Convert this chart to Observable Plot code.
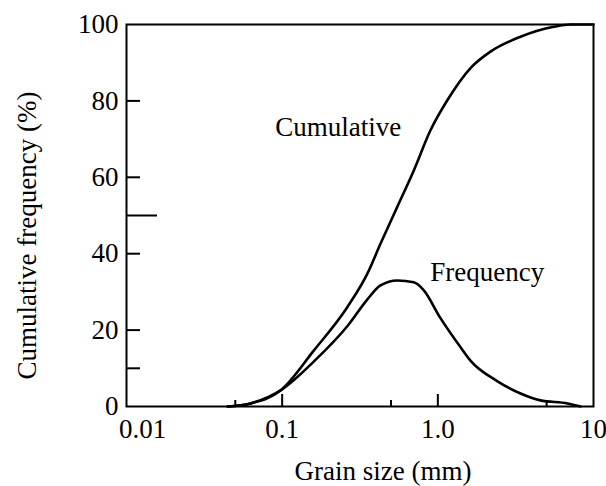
<!DOCTYPE html>
<html>
<head>
<meta charset="utf-8">
<script src="https://cdn.jsdelivr.net/npm/d3@7"></script>
<script src="https://cdn.jsdelivr.net/npm/@observablehq/plot@0.6"></script>
<style>
  html, body { margin: 0; padding: 0; background: #fff; }
</style>
</head>
<body>
<div id="chart"></div>
<script>
// Grain-size distribution: cumulative curve and frequency curve (log grain size)
const cumSize = [0.0446, 0.0626, 0.0976, 0.160, 0.262, 0.352, 0.428, 0.548, 0.701, 0.897, 1.148, 1.622, 2.18, 3.40, 5.56, 7.11, 10];
const cumValue = [0, 0.8, 4.2, 14.7, 26, 34.7, 42.6, 52.2, 61.8, 72.3, 80.1, 88.6, 92.9, 96.8, 99.4, 100, 100];

const freqSize = [0.0446, 0.0626, 0.0976, 0.160, 0.262, 0.352, 0.428, 0.548, 0.701, 0.813, 1.03, 1.40, 1.62, 2.42, 3.40, 4.56, 6.81, 8.25];
const freqValue = [0, 0.8, 4.2, 11.8, 21.0, 28.0, 31.7, 33.0, 32.5, 30.4, 23.4, 15.5, 12.0, 6.6, 3.4, 1.6, 0.8, 0];

const yTickLabels = [0, 20, 40, 60, 80, 100];
const yTicksShort = [10, 20, 40, 60, 80];
const yTicksLong = [50];
const xTickLabels = [0.01, 0.1, 1, 10];
const xTickText = ["0.01", "0.1", "1.0", "10"];
const xTicksMajor = [0.1, 1];
const xTicksMinor = [0.05, 0.5, 5];

const curveLabels = [
  {size: 0.229, value: 73.0, text: "Cumulative"},
  {size: 2.076, value: 35.1, text: "Frequency"}
];

const cumulative = cumSize.map((s, i) => ({size: s, value: cumValue[i]}));
const frequency = freqSize.map((s, i) => ({size: s, value: freqValue[i]}));
const xLabelRows = xTickLabels.map((v, i) => ({v, text: xTickText[i]}));

const font = "'Liberation Serif', 'Times New Roman', serif";
const fs = 27;
const W = 606, H = 486;
const mL = 126, mR = 13, mT = 24, mB = 80;
const plotW = W - mL - mR, plotH = H - mT - mB;
const txt = {fontSize: fs, fontFamily: font, fill: "#000"};

const chart = Plot.plot({
  width: W,
  height: H,
  marginLeft: mL,
  marginRight: mR,
  marginTop: mT,
  marginBottom: mB,
  style: {fontFamily: font, fontSize: fs + "px", background: "#fff", color: "#000"},
  x: {type: "log", domain: [0.01, 10], axis: null},
  y: {domain: [0, 100], axis: null},
  marks: [
    // inward ticks on the left axis
    Plot.tickY(yTicksShort, {y: d => d, stroke: "#000", strokeWidth: 2, insetRight: plotW - 14}),
    Plot.tickY(yTicksLong, {y: d => d, stroke: "#000", strokeWidth: 2, insetRight: plotW - 31}),
    // inward ticks on the bottom axis
    Plot.tickX(xTicksMajor, {x: d => d, stroke: "#000", strokeWidth: 2, insetTop: plotH - 12}),
    Plot.tickX(xTicksMinor, {x: d => d, stroke: "#000", strokeWidth: 2, insetTop: plotH - 6}),
    Plot.frame({stroke: "#000", strokeWidth: 2}),
    // curves
    Plot.line(cumulative, {x: "size", y: "value", curve: "monotone-x", stroke: "#000", strokeWidth: 2.6}),
    Plot.line(frequency, {x: "size", y: "value", curve: "monotone-x", stroke: "#000", strokeWidth: 2.6}),
    // curve names
    Plot.text(curveLabels, {x: "size", y: "value", text: "text", ...txt}),
    // y tick labels
    Plot.text(yTickLabels, {y: d => d, text: d => String(d), frameAnchor: "left", dx: -8, textAnchor: "end", lineAnchor: "middle", ...txt}),
    // x tick labels (first one nudged clear of the y axis)
    Plot.text(xLabelRows.slice(0, 1), {x: "v", text: "text", frameAnchor: "bottom", lineAnchor: "middle", dy: 23, dx: 16, ...txt}),
    Plot.text(xLabelRows.slice(1), {x: "v", text: "text", frameAnchor: "bottom", lineAnchor: "middle", dy: 23, ...txt}),
    // axis titles
    Plot.text(["Grain size (mm)"], {frameAnchor: "bottom", lineAnchor: "middle", textAnchor: "middle", dy: 65, dx: 23, ...txt}),
    Plot.text(["Cumulative frequency (%)"], {frameAnchor: "left", textAnchor: "middle", lineAnchor: "middle", dx: -99, dy: 20, rotate: -90, ...txt})
  ]
});

document.getElementById("chart").appendChild(chart);
</script>
</body>
</html>
